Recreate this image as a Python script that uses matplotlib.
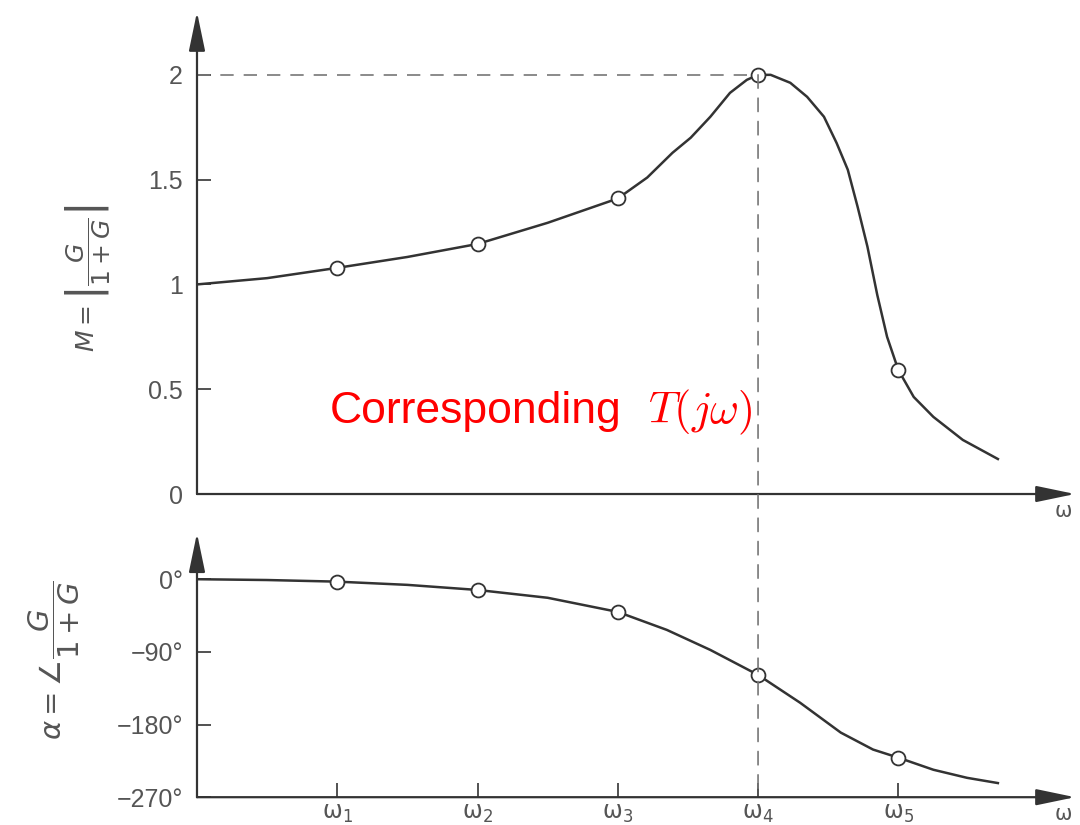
import matplotlib
matplotlib.use("Agg")
import matplotlib.pyplot as plt
from matplotlib.patches import ConnectionPatch

# frequency positions (omega_1 .. omega_5 sit at 1..5)
w_mag = [0, 0.5, 1, 1.5, 2, 2.5, 3, 3.21, 3.39, 3.52, 3.66, 3.80, 3.92, 4, 4.09,
         4.23, 4.35, 4.47, 4.56, 4.64, 4.71, 4.78, 4.85, 4.92, 5, 5.11, 5.25,
         5.46, 5.71]
mag = [1.0, 1.03, 1.079, 1.131, 1.193, 1.294, 1.41, 1.51, 1.628, 1.70, 1.80,
       1.914, 1.976, 2.0, 2.0, 1.962, 1.895, 1.80, 1.675, 1.547, 1.37, 1.18,
       0.95, 0.75, 0.592, 0.463, 0.368, 0.258, 0.167]

w_ph = [0, 0.5, 1, 1.5, 2, 2.5, 3, 3.35, 3.66, 4, 4.30, 4.59, 4.82, 5, 5.25, 5.49, 5.71]
phase = [0, -1, -3, -7, -13.3, -23, -40.5, -62.8, -87.6, -118.5, -153, -190,
         -211, -221, -236, -246, -252.5]

w_pts = [1, 2, 3, 4, 5]
mag_pts = [1.079, 1.193, 1.41, 2.0, 0.592]
phase_pts = [-3, -13.3, -40.5, -118.5, -221]

w_labels = ["ω$_1$", "ω$_2$", "ω$_3$", "ω$_4$", "ω$_5$"]
mag_ticks = [0, 0.5, 1, 1.5, 2]
mag_ticklabels = ["0", "0.5", "1", "1.5", "2"]
ph_ticks = [0, -90, -180, -270]
ph_ticklabels = ["0°", "−90°", "−180°", "−270°"]

ink = "#333333"
grey = "#555555"
font = "Liberation Sans"

fig = plt.figure(figsize=(10.8, 8.25), dpi=100)
ax1 = fig.add_axes([0.1824, 0.4012, 0.813, 0.5843])
ax2 = fig.add_axes([0.1824, 0.0337, 0.813, 0.32])

arrow = dict(arrowstyle="-|>,head_length=1.2,head_width=0.25", color=ink,
             lw=1.6, mutation_scale=20, shrinkA=0, shrinkB=0)

for ax in (ax1, ax2):
    for s in ax.spines.values():
        s.set_visible(False)
    ax.set_xlim(0, 6.26)
    ax.annotate("", xy=(1, 0), xytext=(0, 0), xycoords="axes fraction",
                textcoords="axes fraction", arrowprops=arrow)
    ax.annotate("", xy=(0, 1), xytext=(0, 0), xycoords="axes fraction",
                textcoords="axes fraction", arrowprops=arrow)
    ax.tick_params(direction="in", length=10, width=1.2, color=ink,
                   labelsize=18, labelcolor=grey, pad=10)
    ax.tick_params(axis="x", pad=3)

ax1.text(0.987, -0.035, "ω", transform=ax1.transAxes, fontsize=15,
         color=grey, ha="center", va="center")
ax2.text(0.987, -0.065, "ω", transform=ax2.transAxes, fontsize=15,
         color=grey, ha="center", va="center")

# magnitude
ax1.set_ylim(0, 2.30)
ax1.plot(w_mag, mag, color=ink, lw=1.8, zorder=3)
ax1.plot(w_pts, mag_pts, "o", ms=10, mfc="white", mec=ink, mew=1.3, zorder=4)
ax1.plot([0, 4], [2, 2], color="#777777", lw=1.2, ls=(0, (8, 6)), zorder=2)
ax1.set_xticks([])
ax1.set_yticks(mag_ticks)
ax1.set_yticklabels(mag_ticklabels, fontfamily=font)
ax1.set_ylabel(r"$M = \left|\dfrac{G}{1+G}\right|$", fontsize=18, color=grey)
ax1.yaxis.set_label_coords(-0.097, 0.448)

# phase
ax2.set_ylim(-270, 57)
ax2.plot(w_ph, phase, color=ink, lw=1.8, zorder=3)
ax2.plot(w_pts, phase_pts, "o", ms=10, mfc="white", mec=ink, mew=1.3, zorder=4)
ax2.set_xticks(w_pts)
ax2.set_xticklabels(w_labels, fontsize=17)
ax2.set_yticks(ph_ticks)
ax2.set_yticklabels(ph_ticklabels, fontfamily=font)
ax2.set_ylabel(r"$\alpha = \angle\dfrac{G}{1+G}$", fontsize=21, color=grey)
ax2.yaxis.set_label_coords(-0.131, 0.52)

# dashed line at the resonance frequency through both plots
con = ConnectionPatch(xyA=(4, 2), coordsA=ax1.transData, xyB=(4, -270),
                      coordsB=ax2.transData, color="#777777", lw=1.2,
                      ls=(0, (8, 6)), zorder=1)
fig.add_artist(con)

fig.text(0.3056, 0.487, "Corresponding", fontsize=32, color="red",
         fontfamily=font, ha="left", va="baseline")
fig.text(0.600, 0.487, r"$T(j\omega)$", fontsize=32, color="red",
         math_fontfamily="cm", ha="left", va="baseline")

fig.savefig("out.png", dpi=100)
